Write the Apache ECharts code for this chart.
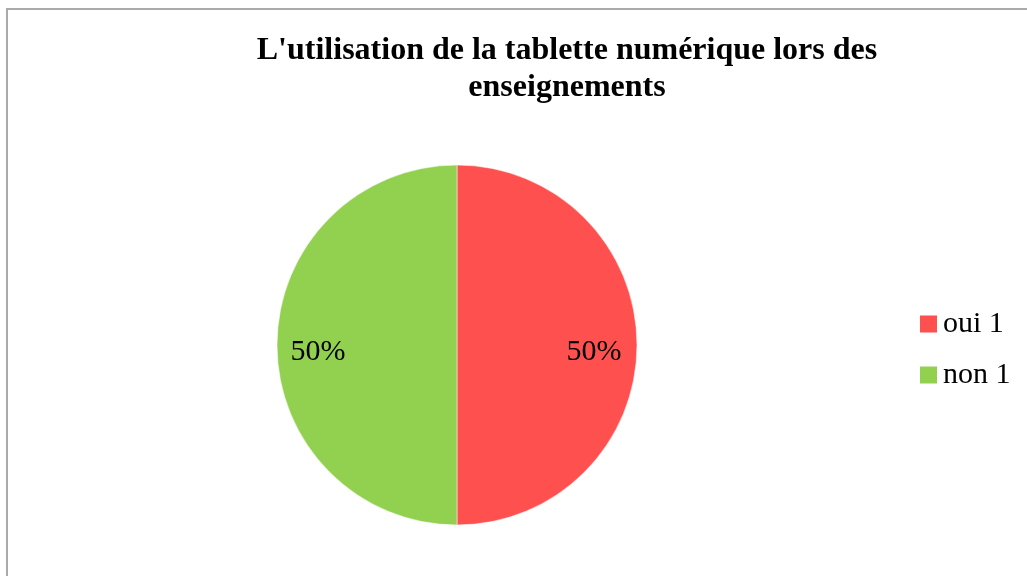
<!DOCTYPE html>
<html>
<head>
<meta charset="utf-8">
<script src="https://cdn.jsdelivr.net/npm/echarts@6/dist/echarts.min.js"></script>
<style>
html, body { margin: 0; padding: 0; background: #fff; }
#main { width: 1027px; height: 576px; position: relative; }
#frame { position: absolute; left: 6px; top: 8px; width: 1100px; height: 700px; border: 2px solid #aaa; box-sizing: border-box; }
</style>
</head>
<body>
<div id="main"></div>
<div id="frame"></div>
<script>
var titleText = "L'utilisation de la tablette numérique lors des\nenseignements";
var categories = ['oui 1', 'non 1'];
var values = [1, 1];
var colors = ['#FF5050', '#92D050'];

var pieData = [];
for (var i = 0; i < categories.length; i++) {
	pieData.push({ name: categories[i], value: values[i], itemStyle: { color: colors[i] } });
}

var myChart = echarts.init(document.getElementById('main'));
var option = {
	animation: false,
	title: {
		text: titleText,
		left: 562,
		top: 27,
		textAlign: 'center',
		textStyle: {
			fontFamily: 'Liberation Serif',
			fontSize: 32,
			fontWeight: 'bold',
			color: '#000',
			lineHeight: 37
		}
	},
	legend: {
		orient: 'vertical',
		left: 913,
		top: 304,
		itemWidth: 19,
		itemHeight: 19,
		itemGap: 21,
		icon: 'rect',
		data: categories,
		textStyle: {
			fontFamily: 'Liberation Serif',
			fontSize: 30,
			color: '#000',
			padding: [0, 0, 0, 0]
		}
	},
	series: [{
		type: 'pie',
		center: [457, 345],
		radius: [0, 180],
		startAngle: 90,
		clockwise: true,
		data: pieData,
		label: { show: false },
		labelLine: { show: false },
		itemStyle: { borderColor: '#fff', borderWidth: 0.5 },
		emphasis: { disabled: true }
	}, {
		// label ring, places the percentages at 3/4 of radius
		type: 'pie',
		center: [456, 352],
		radius: [90, 180],
		startAngle: 90,
		clockwise: true,
		silent: true,
		legendHoverLink: false,
		data: pieData.map(function(d) {
			return { name: d.name, value: d.value, itemStyle: { color: 'rgba(0,0,0,0)' } };
		}),
		label: {
			show: true,
			position: 'inside',
			formatter: function(p) { return Math.round(p.percent) + '%'; },
			fontFamily: 'Liberation Serif',
			fontSize: 30,
			color: '#000'
		},
		labelLine: { show: false },
		emphasis: { disabled: true }
	}]
};
myChart.setOption(option);
</script>
</body>
</html>
